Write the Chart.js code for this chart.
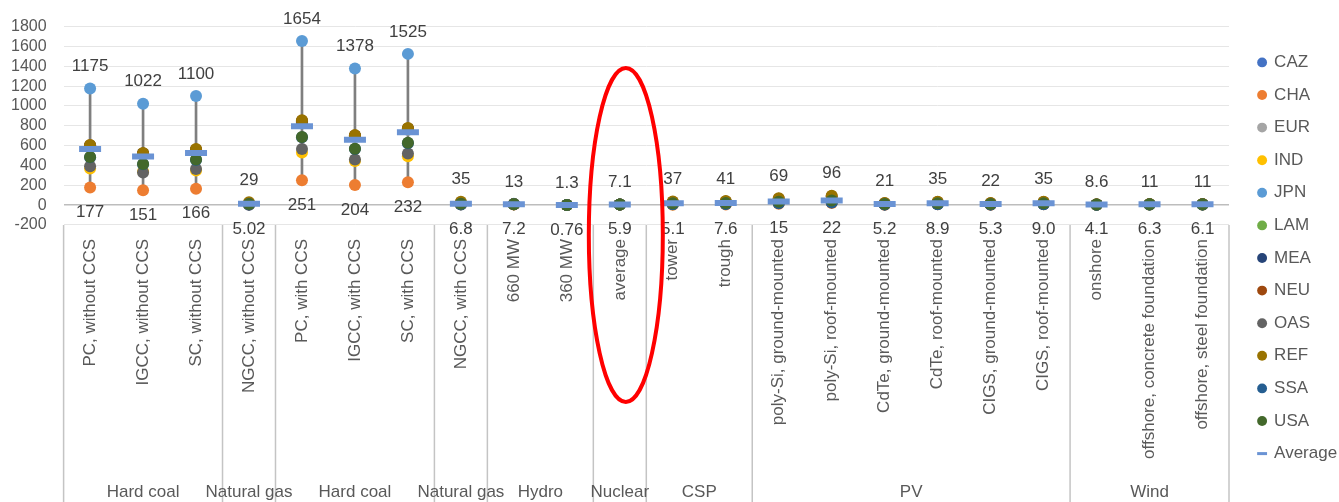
<!DOCTYPE html>
<html>
<head>
<meta charset="utf-8">
<script src="https://cdn.jsdelivr.net/npm/chart.js@4"></script>
<style>
  html, body { margin: 0; padding: 0; background: #fff; }
  #wrap { width: 1339px; height: 502px; }
</style>
</head>
<body>
<div id="wrap"><canvas id="chart"></canvas></div>
<script>
const categories = [
  'PC, without CCS', 'IGCC, without CCS', 'SC, without CCS', 'NGCC, without CCS',
  'PC, with CCS', 'IGCC, with CCS', 'SC, with CCS', 'NGCC, with CCS',
  '660 MW', '360 MW', 'average', 'tower', 'trough',
  'poly-Si, ground-mounted', 'poly-Si, roof-mounted', 'CdTe, ground-mounted',
  'CdTe, roof-mounted', 'CIGS, ground-mounted', 'CIGS, roof-mounted',
  'onshore', 'offshore, concrete foundation', 'offshore, steel foundation'
];
const groupNames = ['Hard coal', 'Natural gas', 'Hard coal', 'Natural gas', 'Hydro', 'Nuclear', 'CSP', 'PV', 'Wind'];
const groupSizes = [3, 1, 3, 1, 2, 1, 2, 6, 3];

const CAZ = [600, 520, 555, 15, 840, 700, 770, 20, 10, 1.0, 6.5, 20, 24, 35, 50, 11, 18, 11, 18, 6, 8, 8];
const CHA = [177, 151, 166, 6, 251, 204, 232, 8, 7.2, 0.76, 5.9, 5.1, 7.6, 15, 22, 5.2, 8.9, 5.3, 9.0, 4.1, 6.3, 6.1];
const EUR = [590, 510, 545, 12, 830, 690, 760, 15, 9, 0.9, 6.3, 18, 20, 30, 45, 10, 16, 10, 16, 5.5, 7.5, 7.5];
const IND = [370, 340, 350, 8, 530, 445, 492, 10, 8, 0.8, 6.0, 10, 12, 25, 35, 8, 12, 8, 12, 5, 7, 7];
const JPN = [1175, 1022, 1100, 20, 1654, 1378, 1525, 25, 13, 1.3, 7.1, 30, 35, 50, 70, 16, 26, 17, 26, 7.5, 10, 10];
const LAM = [595, 515, 550, 10, 835, 695, 765, 12, 9, 0.9, 6.2, 15, 18, 28, 40, 9, 14, 9, 14, 5.2, 7.2, 7.2];
const MEA = [600, 520, 555, 5.02, 845, 700, 770, 6.8, 11, 1.1, 6.8, 12, 14, 22, 30, 7, 11, 7, 11, 6.5, 8.5, 8.5];
const NEU = [605, 522, 560, 14, 850, 703, 774, 18, 10, 1.0, 6.6, 33, 38, 65, 90, 19, 32, 20, 32, 6, 8, 8];
const OAS = [392, 330, 365, 10, 567, 460, 520, 12, 9, 0.9, 6.2, 12, 14, 25, 35, 8, 12, 8, 12, 5, 7, 7];
const REF = [607, 527, 565, 29, 855, 706, 778, 35, 12, 1.2, 7.0, 37, 41, 69, 96, 21, 35, 22, 35, 8.6, 11, 11];
const SSA = [482, 412, 455, 9, 684, 565, 625, 10, 8, 0.8, 6.1, 10, 12, 20, 28, 6, 10, 6, 10, 4.8, 6.8, 6.6];
const USA = [485, 415, 460, 12, 688, 568, 630, 14, 10, 1.0, 6.5, 20, 22, 35, 48, 11, 18, 11, 18, 6, 8, 8];
const AVERAGE = [565, 490, 525, 13, 796, 660, 736, 15, 10, 1.0, 6.4, 19, 22, 36, 48, 11, 18, 11, 18, 6, 8, 8];

const regions = ['CAZ', 'CHA', 'EUR', 'IND', 'JPN', 'LAM', 'MEA', 'NEU', 'OAS', 'REF', 'SSA', 'USA'];
const regionData = [CAZ, CHA, EUR, IND, JPN, LAM, MEA, NEU, OAS, REF, SSA, USA];
const regionColors = ['#4472C4', '#ED7D31', '#A5A5A5', '#FFC000', '#5B9BD5', '#70AD47',
                      '#264478', '#9E480E', '#636363', '#997300', '#255E91', '#43682B'];

const yTicks = [-200, 0, 200, 400, 600, 800, 1000, 1200, 1400, 1600, 1800];

const FONT = '"Liberation Sans", Arial, sans-serif';
const GREY = '#595959';

// range of every category across regions
const hi = categories.map((_, i) => Math.max(...regionData.map(s => s[i])));
const lo = categories.map((_, i) => Math.min(...regionData.map(s => s[i])));

function fmt(v) {
  if (v >= 10) return String(v);
  return Number.isInteger(v) ? v.toFixed(1) : String(v);
}

const datasets = regions.map((name, k) => ({
  type: 'line',
  label: name,
  data: regionData[k],
  showLine: false,
  pointStyle: 'circle',
  pointRadius: 6,
  pointBorderWidth: 0,
  backgroundColor: regionColors[k],
  borderColor: regionColors[k],
  order: 12 - k
}));
datasets.push({
  type: 'line',
  label: 'Average',
  data: AVERAGE,
  showLine: false,
  pointStyle: 'line',
  pointRadius: 11,
  pointBorderWidth: 6,
  borderColor: '#6a93d4',
  backgroundColor: '#6a93d4',
  order: 0
});
datasets.push({
  type: 'bar',
  label: 'range',
  data: categories.map((_, i) => [lo[i], hi[i]]),
  backgroundColor: '#7f7f7f',
  barThickness: 2,
  order: 20
});

// max / min value labels above and below each column
const rangeLabels = {
  id: 'rangeLabels',
  afterDatasetsDraw(chart) {
    const { ctx, scales: { x, y } } = chart;
    ctx.save();
    ctx.font = '17px ' + FONT;
    ctx.fillStyle = '#404040';
    ctx.textAlign = 'center';
    ctx.textBaseline = 'middle';
    categories.forEach((_, i) => {
      const px = x.getPixelForValue(i);
      ctx.fillText(fmt(hi[i]), px, y.getPixelForValue(hi[i]) - 22);
      ctx.fillText(fmt(lo[i]), px, y.getPixelForValue(lo[i]) + 25);
    });
    ctx.restore();
  }
};

// group separators, group names and the highlight ring
const groupAxis = {
  id: 'groupAxis',
  afterDraw(chart) {
    const { ctx, chartArea, scales: { x } } = chart;
    ctx.save();
    ctx.strokeStyle = '#c4c4c4';
    ctx.lineWidth = 1.5;
    ctx.font = '17px ' + FONT;
    ctx.fillStyle = GREY;
    ctx.textAlign = 'center';
    ctx.textBaseline = 'middle';
    let start = 0;
    const edge = i => x.getPixelForValue(i - 0.5);
    const line = px => {
      ctx.beginPath();
      ctx.moveTo(px, chartArea.bottom);
      ctx.lineTo(px, chart.height);
      ctx.stroke();
    };
    line(edge(0));
    groupSizes.forEach((n, g) => {
      const end = start + n;
      line(edge(end));
      ctx.fillText(groupNames[g], (edge(start) + edge(end)) / 2, chart.height - 10);
      start = end;
    });

    const cx = x.getPixelForValue(categories.indexOf('average')) + 6;
    ctx.strokeStyle = '#ff0000';
    ctx.lineWidth = 4;
    ctx.beginPath();
    ctx.ellipse(cx, chartArea.bottom + 10, 37, 167, 0, 0, Math.PI * 2);
    ctx.stroke();
    ctx.restore();
  }
};

new Chart(document.getElementById('chart'), {
  type: 'line',
  data: { labels: categories, datasets },
  options: {
    responsive: true,
    maintainAspectRatio: false,
    animation: false,
    events: [],
    layout: { padding: { top: 24, left: 11, right: 2, bottom: 10 } },
    scales: {
      x: {
        offset: true,
        grid: { display: false, offset: true },
        border: { display: false },
        ticks: {
          autoSkip: false,
          maxRotation: 90,
          minRotation: 90,
          padding: 6,
          color: GREY,
          font: { family: FONT, size: 17 }
        },
        afterFit(s) { s.height = 267; }
      },
      y: {
        min: -200,
        max: 1800,
        afterBuildTicks(s) { s.ticks = yTicks.map(v => ({ value: v })); },
        afterFit(s) { s.width = 52.6; },
        border: { display: false },
        grid: {
          drawTicks: false,
          color: c => c.tick.value === 0 ? '#bdbdbd' : '#e6e6e6',
          lineWidth: c => c.tick.value === 0 ? 1.5 : 1
        },
        ticks: {
          autoSkip: false,
          padding: 17,
          color: GREY,
          font: { family: FONT, size: 16 },
          callback: v => String(v)
        }
      },
      y2: {
        position: 'right',
        display: true,
        grid: { display: false, drawTicks: false },
        border: { display: false },
        ticks: { display: false },
        afterFit(s) { s.width = 14; }
      }
    },
    plugins: {
      tooltip: { enabled: false },
      legend: {
        position: 'right',
        maxWidth: 94,
        labels: {
          usePointStyle: true,
          boxWidth: 7,
          boxHeight: 7,
          padding: 15.6,
          color: GREY,
          font: { family: FONT, size: 17 },
          generateLabels(chart) {
            const items = Chart.defaults.plugins.legend.labels.generateLabels(chart)
              .filter(it => it.datasetIndex <= regions.length)
              .sort((a, b) => a.datasetIndex - b.datasetIndex);
            items.forEach(it => {
              if (it.text === 'Average') it.lineWidth = 3;
            });
            return items;
          }
        }
      }
    }
  },
  plugins: [rangeLabels, groupAxis]
});
</script>
</body>
</html>
